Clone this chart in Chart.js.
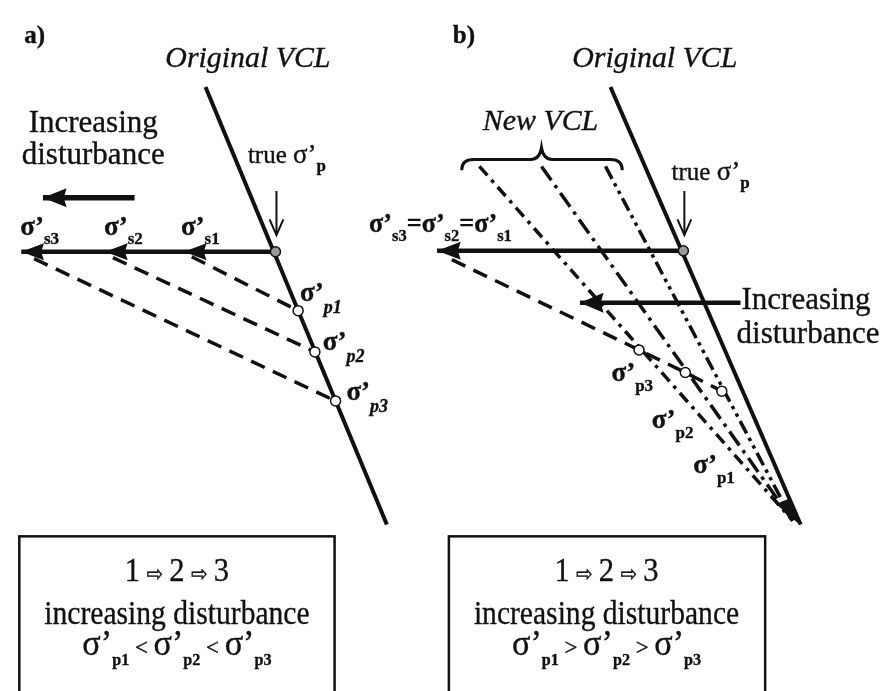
<!DOCTYPE html>
<html lang="en">
<head>
<meta charset="UTF-8">
<title>Sample disturbance and the VCL</title>
<script src="https://cdn.jsdelivr.net/npm/chart.js"></script>
<style>
  html, body { margin: 0; padding: 0; background: #fff; }
  #wrap { width: 882px; height: 691px; }
</style>
</head>
<body>
<div id="wrap"><canvas id="vcl" width="882" height="691"></canvas></div>
<script>
// Diagram units: x grows to the right, y grows downward (0..882, 0..691)

// a) original VCL, true yield point, swelling path and reloading curves
const vclA = [{x: 202, y: 82}, {x: 386, y: 528}];
const trueA = [{x: 273, y: 250}];
const swellA = [{x: 273, y: 250}, {x: 15, y: 250}];
const swellTipsA = [15, 100, 180];
const reloadStartA = [{x: 188, y: 255}, {x: 108, y: 256}, {x: 28, y: 257}];
const yieldA = [{x: 296, y: 310}, {x: 313, y: 352}, {x: 334, y: 402}];
const trendA = [{x: 130, y: 195}, {x: 37, y: 195}];

// b) original VCL, new VCLs fanning from a common end point
const vclB = [{x: 613, y: 82}, {x: 806, y: 528}];
const trueB = [{x: 687, y: 249}];
const swellB = [{x: 687, y: 249}, {x: 437, y: 249}];
const reloadB = [{x: 452, y: 258}, {x: 642, y: 350}, {x: 689, y: 373}, {x: 726, y: 392}];
const yieldB = [{x: 642, y: 350}, {x: 689, y: 373}, {x: 726, y: 392}];
const newVclTop = [{x: 480, y: 163}, {x: 543, y: 163}, {x: 608, y: 163}];
const fanEnd = {x: 798, y: 524};
const trendB = [{x: 745, y: 302}, {x: 582, y: 302}];

const SERIF = '"Liberation Serif", "Times New Roman", Times, serif';
const INK = '#111';

function seg(data, width, dash) {
  return {
    data: data, showLine: true, borderColor: INK, borderWidth: width,
    borderDash: dash || [], pointRadius: 0, tension: 0, borderCapStyle: 'butt'
  };
}

function dots(data, fill) {
  return {
    data: data, showLine: false, pointRadius: 5, pointHoverRadius: 5,
    pointBackgroundColor: fill, pointBorderColor: INK, pointBorderWidth: 1.5
  };
}

const datasets = [
  dots(yieldA, '#fff'),
  dots(yieldB, '#fff'),
  dots(trueA, '#9a9a9a'),
  dots(trueB, '#9a9a9a'),
  seg(vclA, 4),
  seg(vclB, 4),
  seg(swellA, 4.5),
  seg(swellB, 4.5),
  seg(trendA, 5.5),
  seg(trendB, 4.5),
  seg([{x: 274, y: 188}, {x: 274, y: 232}], 2),
  seg([{x: 688, y: 188}, {x: 688, y: 232}], 2),
  seg(reloadB, 3.5, [15, 9]),
  seg([newVclTop[0], fanEnd], 3.5, [12, 6, 3.5, 6]),
  seg([newVclTop[1], fanEnd], 3.5, [17, 6, 3.5, 6]),
  seg([newVclTop[2], fanEnd], 3.5, [14, 5, 3.5, 5, 3.5, 5])
];
reloadStartA.forEach((p, i) => datasets.push(seg([p, yieldA[i]], 3.5, [15, 9])));

// write a run of text pieces [text, font, dy] starting at x (or centred on x);
// sx squeezes or widens the run horizontally
function rich(ctx, parts, x, y, align, sx) {
  sx = sx || 1;
  let w = 0;
  parts.forEach(p => { ctx.font = p[1]; w += ctx.measureText(p[0]).width; });
  ctx.save();
  ctx.translate(align === 'center' ? x - w * sx / 2 : x, y);
  ctx.scale(sx, 1);
  ctx.textAlign = 'left';
  ctx.lineWidth = 0.35;
  let cx = 0;
  parts.forEach(p => {
    ctx.font = p[1];
    ctx.fillText(p[0], cx, p[2] || 0);
    ctx.strokeText(p[0], cx, p[2] || 0);
    cx += ctx.measureText(p[0]).width;
  });
  ctx.restore();
}

const SIG = 'bold 27px ' + SERIF;
const SUB = 'bold 17px ' + SERIF;
const SUBI = 'italic bold 18px ' + SERIF;
const WORD = '31px ' + SERIF;
const ITAL = 'italic 29px ' + SERIF;

const diagram = {
  id: 'diagram',
  afterDatasetsDraw(chart) {
    const ctx = chart.ctx;
    const sx = chart.scales.x, sy = chart.scales.y;
    const X = v => sx.getPixelForValue(v), Y = v => sy.getPixelForValue(v);
    ctx.save();
    ctx.fillStyle = INK;
    ctx.strokeStyle = INK;

    // filled heads pointing left
    const head = (tx, ty, len, half) => {
      ctx.beginPath();
      ctx.moveTo(X(tx), Y(ty));
      ctx.lineTo(X(tx + len), Y(ty) - half);
      ctx.lineTo(X(tx + len * 0.88), Y(ty));
      ctx.lineTo(X(tx + len), Y(ty) + half);
      ctx.closePath();
      ctx.fill();
    };
    swellTipsA.forEach(t => head(t, swellA[0].y, 23, 8.5));
    head(swellB[1].x, swellB[1].y, 24, 9);
    head(trendA[1].x, trendA[1].y, 24, 9.5);
    head(trendB[1].x, trendB[1].y, 24, 10);

    // open heads on the small downward arrows
    [274, 688].forEach(ax => {
      ctx.lineWidth = 2;
      ctx.beginPath();
      ctx.moveTo(X(ax - 7), Y(217));
      ctx.lineTo(X(ax), Y(233));
      ctx.lineTo(X(ax + 7), Y(217));
      ctx.stroke();
    });

    // wedge where the new VCLs meet the original one
    ctx.beginPath();
    ctx.moveTo(X(781), Y(507));
    ctx.lineTo(X(796), Y(501));
    ctx.lineTo(X(806), Y(529));
    ctx.closePath();
    ctx.fill();

    // brace over the new VCLs
    ctx.lineWidth = 3;
    ctx.beginPath();
    ctx.moveTo(X(462), Y(167));
    ctx.quadraticCurveTo(X(462), Y(156), X(474), Y(156));
    ctx.lineTo(X(532), Y(156));
    ctx.quadraticCurveTo(X(541), Y(156), X(543), Y(144));
    ctx.quadraticCurveTo(X(545), Y(156), X(554), Y(156));
    ctx.lineTo(X(613), Y(156));
    ctx.quadraticCurveTo(X(625), Y(156), X(625), Y(167));
    ctx.stroke();

    // summary boxes
    ctx.lineWidth = 2.5;
    ctx.strokeRect(X(13), Y(540), X(333) - X(13), 200);
    ctx.strokeRect(X(449), Y(540), X(770) - X(449), 200);

    ctx.textBaseline = 'alphabetic';

    // panel a text
    rich(ctx, [['a)', 'bold 25px ' + SERIF]], X(18), Y(37));
    rich(ctx, [['Original VCL', ITAL]], X(245), Y(62), 'center', 1.03);
    rich(ctx, [['Increasing', WORD]], X(88), Y(128), 'center');
    rich(ctx, [['disturbance', WORD]], X(88), Y(161), 'center');
    rich(ctx, [['true ', '25px ' + SERIF], ['σ’', '27px ' + SERIF], ['p', SUB, 8]], X(245), Y(160));
    rich(ctx, [['σ’', SIG], ['s3', SUB, 9]], X(14), Y(233));
    rich(ctx, [['σ’', SIG], ['s2', SUB, 9]], X(99), Y(233));
    rich(ctx, [['σ’', SIG], ['s1', SUB, 9]], X(177), Y(233));
    rich(ctx, [['σ’', SIG], ['p1', SUBI, 12]], X(298), Y(300));
    rich(ctx, [['σ’', SIG], ['p2', SUBI, 12]], X(321), Y(350));
    rich(ctx, [['σ’', SIG], ['p3', SUBI, 12]], X(345), Y(401));

    // panel b text
    rich(ctx, [['b)', 'bold 25px ' + SERIF]], X(453), Y(37));
    rich(ctx, [['Original VCL', ITAL]], X(658), Y(62), 'center', 1.03);
    rich(ctx, [['New VCL', ITAL]], X(542), Y(126), 'center', 1.03);
    rich(ctx, [['true ', '25px ' + SERIF], ['σ’', '27px ' + SERIF], ['p', SUB, 8]], X(675), Y(177));
    rich(ctx, [['σ’', SIG], ['s3', SUB, 9], ['=', SIG], ['σ’', SIG], ['s2', SUB, 9], ['=', SIG], ['σ’', SIG], ['s1', SUB, 9]], X(368), Y(230), 'left', 0.97);
    rich(ctx, [['Increasing', WORD]], X(746), Y(308));
    rich(ctx, [['disturbance', WORD]], X(741), Y(343));
    rich(ctx, [['σ’', SIG], ['p3', SUB, 10]], X(614), Y(382));
    rich(ctx, [['σ’', SIG], ['p2', SUB, 10]], X(655), Y(430));
    rich(ctx, [['σ’', SIG], ['p1', SUB, 10]], X(697), Y(475));

    // box text
    const BOX = '34px ' + SERIF, ARR = '22px "DejaVu Sans", sans-serif';
    const BS = '36px ' + SERIF, BSUB = 'bold 17px ' + SERIF, REL = '24px ' + SERIF;
    [[173, '<'], [609, '>']].forEach(b => {
      rich(ctx, [['1', BOX], [' ⇨ ', ARR], ['2', BOX], [' ⇨ ', ARR], ['3', BOX]], X(b[0]), Y(586), 'center', 0.9);
      rich(ctx, [['increasing disturbance', BOX]], X(b[0]), Y(629), 'center', 0.87);
      rich(ctx, [['σ’', BS], ['p1', BSUB, 10], [' ' + b[1] + ' ', REL], ['σ’', BS], ['p2', BSUB, 10], [' ' + b[1] + ' ', REL], ['σ’', BS], ['p3', BSUB, 10]], X(b[0]), Y(661), 'center', 0.95);
    });

    ctx.restore();
  }
};

function build() {
  new Chart(document.getElementById('vcl'), {
    type: 'scatter',
    data: { datasets: datasets },
    options: {
      responsive: false,
      animation: false,
      events: [],
      layout: { padding: 0 },
      plugins: { legend: { display: false }, tooltip: { enabled: false } },
      scales: {
        x: { type: 'linear', min: 0, max: 882, display: false },
        y: { type: 'linear', min: 0, max: 691, reverse: true, display: false }
      }
    },
    plugins: [diagram]
  });
}

// make sure the serif faces are ready before the canvas text is drawn
Promise.all([
  document.fonts.load('28px "Liberation Serif"'),
  document.fonts.load('italic 28px "Liberation Serif"'),
  document.fonts.load('bold 28px "Liberation Serif"')
]).then(build, build);
</script>
</body>
</html>
